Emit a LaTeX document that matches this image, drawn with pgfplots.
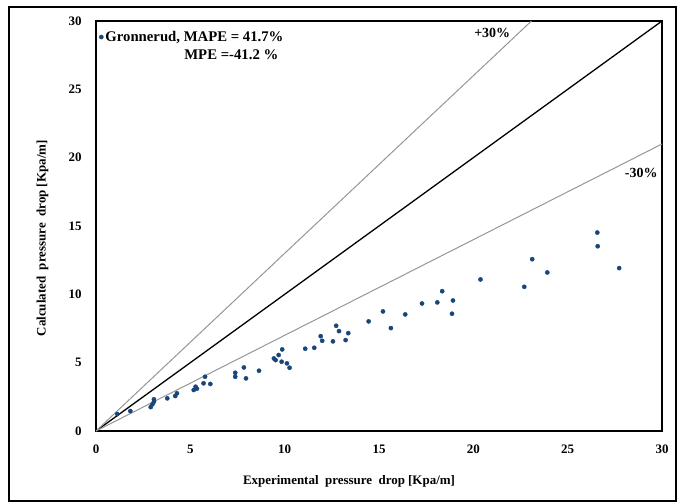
\documentclass[border=0pt]{standalone}
\usepackage{pgfplots}
\pgfplotsset{compat=1.18}
\usepackage{fontspec}
\setmainfont{Liberation Serif}
\definecolor{ptblue}{RGB}{24,70,122}
\definecolor{refgray}{RGB}{150,150,150}

\begin{document}
\begin{tikzpicture}
\begin{axis}[
  name=main,
  scale only axis,
  width=566bp, height=410bp,
  xmin=0, xmax=30, ymin=0, ymax=30,
  xtick={0,5,...,30}, ytick={0,5,...,30},
  major tick length=0pt,
  axis line style={line width=1.6bp},
  /pgf/number format/assume math mode=true,
  tick label style={font=\bfseries\fontsize{13}{15}\selectfont},
  xticklabel shift=10bp,
  yticklabel shift=11bp,
  label style={font=\bfseries\fontsize{13}{15}\selectfont},
  xlabel={Experimental\ \ pressure\ \ drop [Kpa/m]},
  ylabel={Calculated\ \ pressure\ \ drop [Kpa/m]},
  xlabel style={at={(rel axis cs:0.447,0)}, anchor=north, yshift=-41bp},
  ylabel style={at={(rel axis cs:0,0.47)}, anchor=south, yshift=44bp},
  legend style={at={(rel axis cs:0,1)}, anchor=north west, draw=none, fill=none,
    font=\bfseries\fontsize{14.8}{17}\selectfont, inner sep=1bp, xshift=2bp, yshift=-7bp},
  legend image code/.code={\draw[#1] plot coordinates {(0.08cm,0cm)};},
  clip=false,
]
\addplot[only marks, mark=*, mark size=2.1bp, color=ptblue] coordinates {
(1.13,1.24) (1.82,1.46) (2.90,1.75) (2.99,1.95) (3.07,2.14) (3.07,2.32)
(3.78,2.39) (4.20,2.56) (4.29,2.76) (5.18,3.00) (5.28,3.24) (5.35,3.09)
(5.78,3.97) (5.70,3.49) (6.06,3.44)
(7.38,4.26) (7.38,3.97) (7.84,4.65) (7.95,3.85) (8.64,4.41)
(9.43,5.31) (9.52,5.19) (9.68,5.56) (9.87,5.97) (9.84,5.07) (10.12,4.95) (10.26,4.63)
(11.09,6.02) (11.57,6.09) (11.91,6.94) (11.99,6.60) (12.56,6.56) (12.73,7.70)
(12.88,7.31) (13.37,7.16) (13.23,6.65) (14.45,8.02)
(15.21,8.75) (15.63,7.53) (16.39,8.53) (17.28,9.33) (18.09,9.41) (18.35,10.23)
(18.92,9.55) (18.87,8.58) (20.38,11.09)
(23.12,12.57) (22.70,10.55) (23.92,11.60) (26.57,14.52) (26.59,13.52) (27.73,11.92)
};
\addlegendentry{Gronnerud, MAPE = 41.7\%}
\addplot[black, line width=1.3bp, forget plot] coordinates {(0,0) (30,30)};
\addplot[refgray, line width=1bp, forget plot] coordinates {(0,0) (23.08,30)};
\addplot[refgray, line width=1bp, forget plot] coordinates {(0,0) (30,21)};
\node[font=\bfseries\fontsize{14.8}{17}\selectfont, anchor=east] at (axis cs:9.85,27.5) {MPE =-41.2 \%};
\node[font=\bfseries\fontsize{14}{16}\selectfont] at (axis cs:21.0,29.15) {+30\%};
\node[font=\bfseries\fontsize{14}{16}\selectfont] at (axis cs:28.9,18.9) {-30\%};
\end{axis}
\draw[line width=1.2bp] ([shift={(-87bp,-70bp)}]main.south west) rectangle ([shift={(14bp,14bp)}]main.north east);
\path[use as bounding box] ([shift={(-96bp,-73bp)}]main.south west) rectangle ([shift={(22bp,21bp)}]main.north east);
\end{tikzpicture}
\end{document}
